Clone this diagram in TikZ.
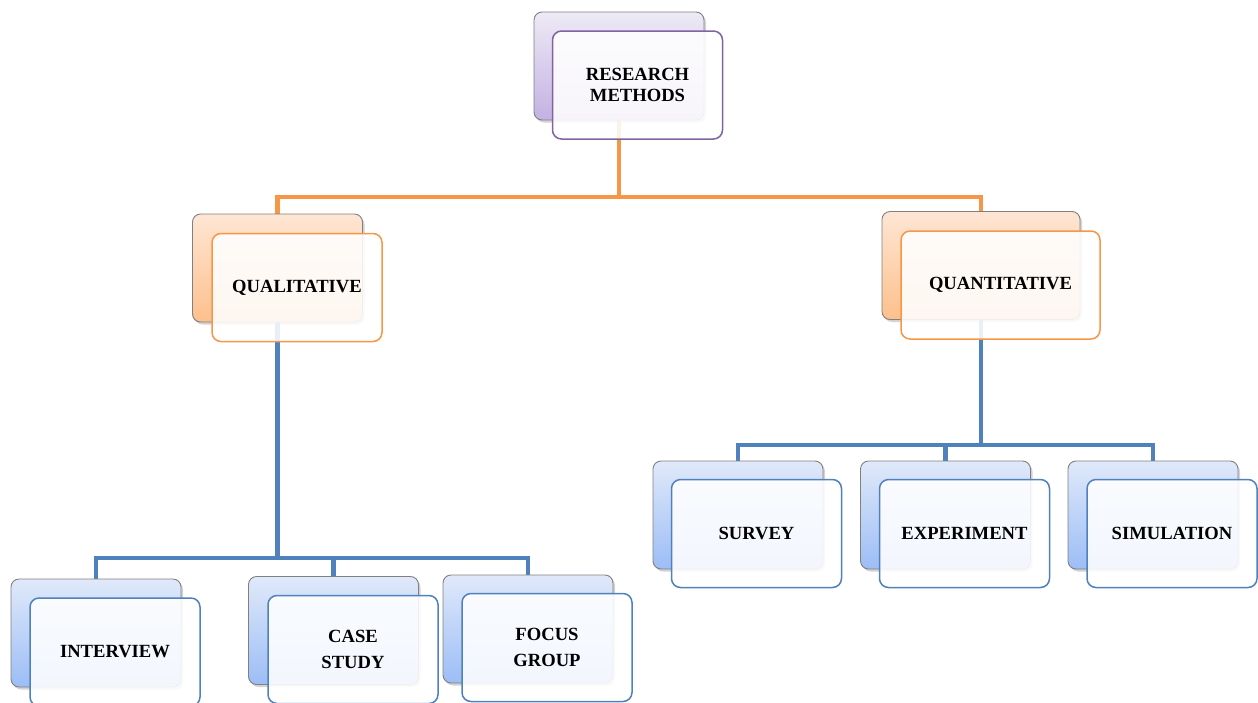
\documentclass[tikz,border=0pt]{standalone}
\usepackage{fontspec}
\setmainfont{Liberation Serif}
\usetikzlibrary{shadows}
\definecolor{linkorange}{HTML}{F79646}
\definecolor{linkblue}{HTML}{4F81BD}
\definecolor{edgepurple}{HTML}{8064A2}
\definecolor{edgeorange}{HTML}{F79646}
\definecolor{edgeblue}{HTML}{4F81BD}
\definecolor{purpletop}{HTML}{EEEAF5}
\definecolor{purplebot}{HTML}{C3B1E3}
\definecolor{orangetop}{HTML}{FEE6D4}
\definecolor{orangebot}{HTML}{FDC08C}
\definecolor{bluetop}{HTML}{E0E9FA}
\definecolor{bluebot}{HTML}{9CBDF6}
\pgfdeclarelayer{links}
\pgfsetlayers{links,main}
\tikzset{
  backbox/.style={draw=black!50, line width=0.9pt, rounded corners=8pt,
    minimum width=170pt, minimum height=108pt, inner sep=0pt,
    drop shadow={shadow xshift=2pt, shadow yshift=-2.5pt, opacity=0.35}},
  purpleback/.style={backbox, top color=purpletop, bottom color=purplebot},
  orangeback/.style={backbox, top color=orangetop, bottom color=orangebot},
  blueback/.style={backbox, top color=bluetop, bottom color=bluebot},
  frontbox/.style={line width=1.5pt, rounded corners=9pt, fill=white,
    fill opacity=0.88, text opacity=1, minimum width=170pt,
    minimum height=108pt, inner sep=0pt, align=center,
    font=\fontsize{18.6}{20.5}\selectfont\bfseries},
  purplefront/.style={frontbox, draw=edgepurple},
  orangefront/.style={frontbox, draw=edgeorange},
  bluefront/.style={frontbox, draw=edgeblue},
  orangelink/.style={draw=linkorange, line width=4.2pt},
  bluelink/.style={draw=linkblue, line width=4.5pt}
}
\begin{document}
\begin{tikzpicture}[x=1pt,y=1pt]
\useasboundingbox (0,0) rectangle (1258,-702);

% top level
\node[purpleback] (rmb) at (619,-66) {};
\node[purplefront] (rm) at (637.5,-85) {RESEARCH\\METHODS};

% second level
\node[orangeback] (qlb) at (277.5,-268) {};
\node[orangefront] (ql) at (297,-287.5) {QUALITATIVE};
\node[orangeback, minimum width=198pt] (qnb) at (981,-265.5) {};
\node[orangefront, minimum width=199pt] (qn) at (1000.5,-285) {QUANTITATIVE};

% qualitative methods
\node[blueback] (ivb) at (96,-633) {};
\node[bluefront] (iv) at (115,-652) {INTERVIEW};
\node[blueback] (csb) at (333.5,-630.5) {};
\node[bluefront] (cs) at (353,-649.5) {CASE\\[6pt]STUDY};
\node[blueback] (fgb) at (528,-629) {};
\node[bluefront] (fg) at (547,-647.5) {FOCUS\\[6pt]GROUP};

% quantitative methods
\node[blueback] (svb) at (738,-515) {};
\node[bluefront] (sv) at (756.5,-533.5) {SURVEY};
\node[blueback] (exb) at (945.5,-515) {};
\node[bluefront] (ex) at (964.5,-533.5) {EXPERIMENT};
\node[blueback] (smb) at (1153,-515) {};
\node[bluefront] (sm) at (1172,-533.5) {SIMULATION};

% bus lines of the tree
\coordinate (busA) at (0,-197);
\coordinate (busB) at (0,-558);
\coordinate (busC) at (0,-445);

\begin{pgfonlayer}{links}
\draw[orangelink] (rmb.south) |- (qlb.north |- busA) -- (qlb.north);
\draw[orangelink] (rmb.south) |- (qnb.north |- busA) -- (qnb.north);

\draw[bluelink] (qlb.south) |- (ivb.north |- busB) -- (ivb.north);
\draw[bluelink] (qlb.south |- busB) -- (csb.north |- busB) -- (csb.north);
\draw[bluelink] (qlb.south |- busB) -| (fgb.north);

\draw[bluelink] (qnb.south) |- (svb.north |- busC) -- (svb.north);
\draw[bluelink] (qnb.south |- busC) -| (exb.north);
\draw[bluelink] (qnb.south |- busC) -| (smb.north);
\end{pgfonlayer}
\end{tikzpicture}
\end{document}
